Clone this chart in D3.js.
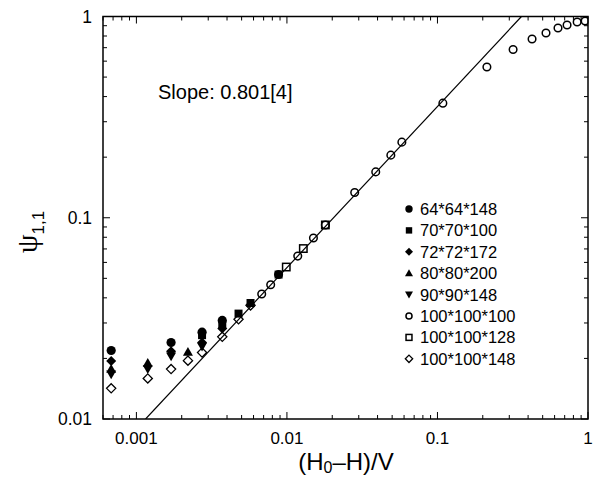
<!DOCTYPE html>
<html>
<head>
<meta charset="utf-8">
<script src="https://cdn.jsdelivr.net/npm/d3@7"></script>
<style>
  html, body { margin: 0; padding: 0; background: #fff; }
  svg { display: block; }
  text { font-family: "Liberation Sans", Arial, Helvetica, sans-serif; fill: #000; }
</style>
</head>
<body>
<svg id="chart" width="598" height="477"></svg>
<script>
// ---------- data ----------
const seriesNames = ["64*64*148", "70*70*100", "72*72*172", "80*80*200", "90*90*148", "100*100*100", "100*100*128", "100*100*148"];
const seriesShapes = ["circleFilled", "squareFilled", "diamondFilled", "triUp", "triDown", "circleOpen", "squareOpen", "diamondOpen"];

const x64 = [0.00068, 0.0017, 0.00273, 0.00372];
const y64 = [0.0219, 0.0240, 0.0270, 0.0309];

const x70 = [0.00273, 0.00372, 0.00477, 0.00573, 0.0088];
const y70 = [0.0261, 0.0296, 0.0334, 0.0377, 0.0522];

const x72 = [0.00068, 0.0017, 0.00273, 0.00372];
const y72 = [0.0194, 0.0217, 0.0240, 0.0282];

const x80 = [0.00068, 0.00119, 0.0022];
const y80 = [0.0177, 0.0190, 0.0215];

const x90 = [0.00068, 0.00119, 0.0017, 0.00273];
const y90 = [0.0167, 0.0177, 0.0205, 0.0229];

const x100 = [0.0068, 0.0078, 0.0088, 0.0118, 0.0150, 0.0180, 0.0282, 0.0389, 0.0490, 0.0580, 0.1086, 0.213, 0.318, 0.425, 0.526, 0.632, 0.726, 0.847, 0.957];
const y100 = [0.0418, 0.0465, 0.0522, 0.0645, 0.0793, 0.0921, 0.1334, 0.169, 0.2047, 0.2375, 0.371, 0.561, 0.685, 0.773, 0.828, 0.877, 0.907, 0.939, 0.950];

const x128 = [0.0099, 0.01285, 0.0180];
const y128 = [0.0569, 0.0703, 0.0921];

const x148 = [0.00068, 0.00119, 0.0017, 0.0022, 0.00273, 0.00372, 0.00477, 0.00573];
const y148 = [0.0142, 0.0159, 0.0177, 0.0195, 0.0214, 0.0256, 0.0313, 0.0367];

const xTickLabels = ["0.001", "0.01", "0.1", "1"];
const yTickLabels = ["0.01", "0.1", "1"];

const fitSlope = 0.801;
const fitCoef = 2.26;
const slopeText = "Slope: 0.801[4]";

// ---------- layout ----------
const W = 598, H = 477;
const L = 103, R = 588, T = 16.5, B = 419;

const svg = d3.select("#chart");
const x = d3.scaleLog().domain([0.0006, 1]).range([L, R]);
const y = d3.scaleLog().domain([0.01, 1]).range([B, T]);

svg.append("defs").append("clipPath").attr("id", "clip")
  .append("rect").attr("x", L).attr("y", T).attr("width", R - L).attr("height", B - T);

// ---------- ticks (inward, on all sides) ----------
const isMajor = v => Math.abs(Math.log10(v) - Math.round(Math.log10(v))) < 1e-6;
const tickG = svg.append("g").attr("stroke", "#000").attr("stroke-width", 1);
x.ticks().forEach(v => {
  const px = x(v), len = isMajor(v) ? 7 : 4;
  tickG.append("line").attr("x1", px).attr("x2", px).attr("y1", B).attr("y2", B - len);
  tickG.append("line").attr("x1", px).attr("x2", px).attr("y1", T).attr("y2", T + len);
});
y.ticks().forEach(v => {
  const py = y(v), len = isMajor(v) ? 7 : 4;
  tickG.append("line").attr("x1", L).attr("x2", L + len).attr("y1", py).attr("y2", py);
  tickG.append("line").attr("x1", R).attr("x2", R - len).attr("y1", py).attr("y2", py);
});

svg.append("rect").attr("x", L).attr("y", T).attr("width", R - L).attr("height", B - T)
  .attr("fill", "none").attr("stroke", "#000").attr("stroke-width", 1.5);

// tick labels
xTickLabels.forEach(t => {
  svg.append("text").attr("x", x(+t)).attr("y", 444).attr("text-anchor", "middle")
    .attr("font-size", 17).text(t);
});
yTickLabels.forEach(t => {
  svg.append("text").attr("x", 92).attr("y", y(+t) + 6).attr("text-anchor", "end")
    .attr("font-size", 17.5).text(t);
});

// axis titles
const xt = svg.append("text").attr("x", 346).attr("y", 470).attr("text-anchor", "middle").attr("font-size", 24);
xt.append("tspan").text("(H");
xt.append("tspan").attr("font-size", 16).attr("dy", 3).text("0");
xt.append("tspan").attr("dy", -3).text("\u2013H)/V");

const yt = svg.append("text").attr("transform", "translate(37,232) rotate(-90)")
  .attr("text-anchor", "middle").attr("font-size", 30);
yt.append("tspan").attr("font-family", "'Liberation Serif', 'DejaVu Serif', serif").text("\u03C8");
yt.append("tspan").attr("font-size", 17).attr("dy", 7).text("1,1");

// slope annotation
svg.append("text").attr("x", 158).attr("y", 99).attr("font-size", 20).text(slopeText);

// ---------- fit line ----------
const xLo = Math.pow(0.01 / fitCoef, 1 / fitSlope);
const xHi = Math.pow(1 / fitCoef, 1 / fitSlope);
svg.append("line").attr("clip-path", "url(#clip)")
  .attr("x1", x(xLo)).attr("y1", y(fitCoef * Math.pow(xLo, fitSlope)))
  .attr("x2", x(xHi)).attr("y2", y(fitCoef * Math.pow(xHi, fitSlope)))
  .attr("stroke", "#000").attr("stroke-width", 1.2);

// ---------- markers ----------
function marker(g, shape, cx, cy, s) {
  const k = s || 1;
  switch (shape) {
    case "circleFilled":
      g.append("circle").attr("cx", cx).attr("cy", cy).attr("r", 4.6 * k).attr("fill", "#000"); break;
    case "circleOpen":
      g.append("circle").attr("cx", cx).attr("cy", cy).attr("r", 3.8 * k).attr("fill", "none").attr("stroke", "#000").attr("stroke-width", 1.5); break;
    case "squareFilled":
      g.append("rect").attr("x", cx - 4 * k).attr("y", cy - 4 * k).attr("width", 8 * k).attr("height", 8 * k).attr("fill", "#000"); break;
    case "squareOpen":
      g.append("rect").attr("x", cx - 3.7 * k).attr("y", cy - 3.7 * k).attr("width", 7.4 * k).attr("height", 7.4 * k).attr("fill", "none").attr("stroke", "#000").attr("stroke-width", 1.5); break;
    case "diamondFilled": {
      const d = 5 * k;
      g.append("path").attr("d", `M${cx},${cy - d}L${cx + d},${cy}L${cx},${cy + d}L${cx - d},${cy}Z`).attr("fill", "#000"); break; }
    case "diamondOpen": {
      const d = 4.6 * k;
      g.append("path").attr("d", `M${cx},${cy - d}L${cx + d},${cy}L${cx},${cy + d}L${cx - d},${cy}Z`).attr("fill", "none").attr("stroke", "#000").attr("stroke-width", 1.3); break; }
    case "triUp": {
      const d = 5 * k;
      g.append("path").attr("d", `M${cx},${cy - d}L${cx + d},${cy + d * 0.75}L${cx - d},${cy + d * 0.75}Z`).attr("fill", "#000"); break; }
    case "triDown": {
      const d = 5 * k;
      g.append("path").attr("d", `M${cx},${cy + d}L${cx + d},${cy - d * 0.75}L${cx - d},${cy - d * 0.75}Z`).attr("fill", "#000"); break; }
  }
}

const seriesX = [x64, x70, x72, x80, x90, x100, x128, x148];
const seriesY = [y64, y70, y72, y80, y90, y100, y128, y148];
const pts = svg.append("g").attr("clip-path", "url(#clip)");
seriesX.forEach((xs, i) => {
  xs.forEach((xv, j) => marker(pts, seriesShapes[i], x(xv), y(seriesY[i][j])));
});

// ---------- legend ----------
const lg = svg.append("g");
seriesNames.forEach((name, i) => {
  const cy = 209 + i * 21.4;
  marker(lg, seriesShapes[i], 409, cy, 0.8);
  lg.append("text").attr("x", 420).attr("y", cy + 6).attr("font-size", 16.5).text(name);
});
</script>
</body>
</html>
